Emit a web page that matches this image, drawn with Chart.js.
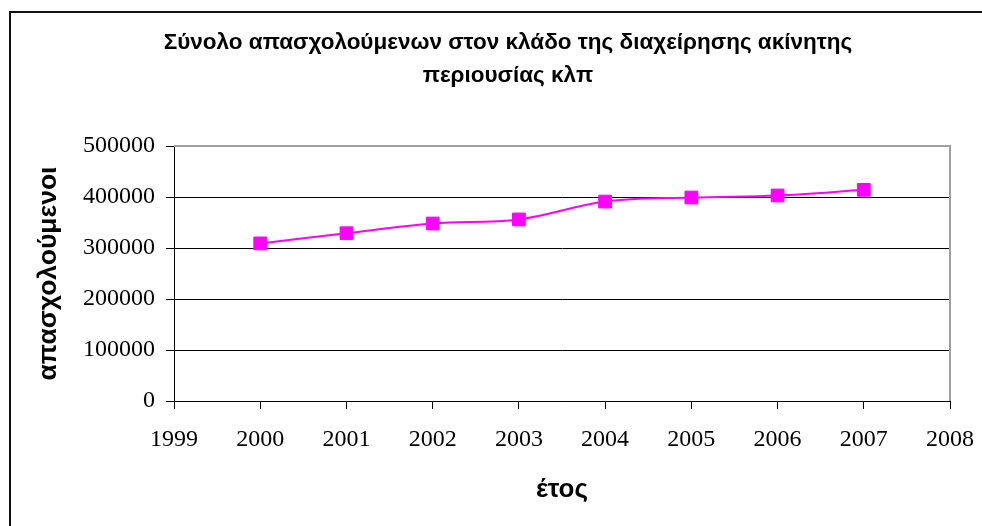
<!DOCTYPE html>
<html>
<head>
<meta charset="utf-8">
<script src="https://cdn.jsdelivr.net/npm/chart.js@4/dist/chart.umd.min.js"></script>
<style>
  html, body { margin: 0; padding: 0; background: #fff; }
  #wrap { width: 982px; height: 526px; }
</style>
</head>
<body>
<div id="wrap"><canvas id="employChart" width="982" height="526"></canvas></div>
<script>
// employment in real estate management, per year
const years = [2000, 2001, 2002, 2003, 2004, 2005, 2006, 2007];
const employed = [309000, 329000, 348000, 356000, 391000, 399000, 403000, 414000];

const titleLines = ['Σύνολο απασχολούμενων στον κλάδο της διαχείρησης ακίνητης', 'περιουσίας κλπ'];
const xTitle = 'έτος';
const yTitle = 'απασχολούμενοι';

const sansFont = "'Liberation Sans', Arial, sans-serif";
const serifFont = "'Liberation Serif', 'Times New Roman', serif";

// frame around the whole chart, gray top/right edge of the plot, and the title
const framePlugin = {
    id: 'frame',
    beforeDraw(chart) {
        const ctx = chart.ctx;
        ctx.save();
        ctx.fillStyle = '#fff';
        ctx.fillRect(0, 0, chart.width, chart.height);
        ctx.strokeStyle = '#111';
        ctx.lineWidth = 2;
        ctx.strokeRect(10, 12, chart.width + 20, chart.height + 20);
        ctx.restore();
    },
    afterDraw(chart) {
        const ctx = chart.ctx;
        const a = chart.chartArea;
        ctx.save();
        ctx.strokeStyle = '#a0a0a0';
        ctx.lineWidth = 2;
        ctx.beginPath();
        ctx.moveTo(a.left, a.top);
        ctx.lineTo(a.right, a.top);
        ctx.lineTo(a.right, a.bottom);
        ctx.stroke();

        ctx.fillStyle = '#000';
        ctx.font = 'bold 22.5px ' + sansFont;
        ctx.textAlign = 'center';
        ctx.textBaseline = 'middle';
        ctx.fillText(titleLines[0], 508, 43);
        ctx.fillText(titleLines[1], 508, 76);
        ctx.restore();
    }
};

const data = {
    datasets: [{
        data: years.map((y, i) => ({ x: y, y: employed[i] })),
        borderColor: '#ff00ff',
        borderWidth: 2,
        tension: 0.35,
        pointStyle: 'rect',
        pointRadius: 9,
        pointBackgroundColor: '#ff00ff',
        pointBorderColor: '#ff00ff',
        pointBorderWidth: 1
    }]
};

const config = {
    type: 'line',
    data: data,
    options: {
        responsive: false,
        animation: false,
        layout: { padding: { top: 146, left: 0, right: 32, bottom: 0 } },
        plugins: {
            legend: { display: false },
            tooltip: { enabled: false },
            title: { display: false }
        },
        scales: {
            x: {
                type: 'linear',
                min: 1999,
                max: 2008,
                afterFit: (scale) => {
                    scale.height = 125;
                    scale.paddingLeft = 0;
                    scale.paddingRight = 0;
                },
                ticks: {
                    stepSize: 1,
                    padding: 16,
                    color: '#000',
                    font: { family: serifFont, size: 24 },
                    maxRotation: 0,
                    callback: (v) => String(v)
                },
                grid: { drawOnChartArea: false, drawTicks: true, tickLength: 8, tickColor: '#000' },
                border: { display: true, color: '#000', width: 1 },
                title: {
                    display: true,
                    text: xTitle,
                    color: '#000',
                    font: { family: sansFont, size: 26, weight: 'bold' },
                    padding: { top: 21, bottom: 21 }
                }
            },
            y: {
                min: 0,
                max: 500000,
                afterFit: (scale) => { scale.width = 174; },
                ticks: {
                    stepSize: 100000,
                    padding: 11,
                    color: '#000',
                    font: { family: serifFont, size: 24 },
                    callback: (v) => String(v)
                },
                grid: {
                    color: (c) => (c.tick && c.tick.value === 500000) ? 'rgba(0,0,0,0)' : '#000',
                    tickColor: '#000',
                    tickLength: 8,
                    lineWidth: 1
                },
                border: { display: true, color: '#000', width: 1 },
                title: {
                    display: true,
                    text: yTitle,
                    color: '#000',
                    font: { family: sansFont, size: 26.5, weight: 'bold' },
                    padding: { top: 33, bottom: 0 }
                }
            }
        }
    },
    plugins: [framePlugin]
};

const employChart = new Chart(document.getElementById('employChart'), config);
</script>
</body>
</html>
